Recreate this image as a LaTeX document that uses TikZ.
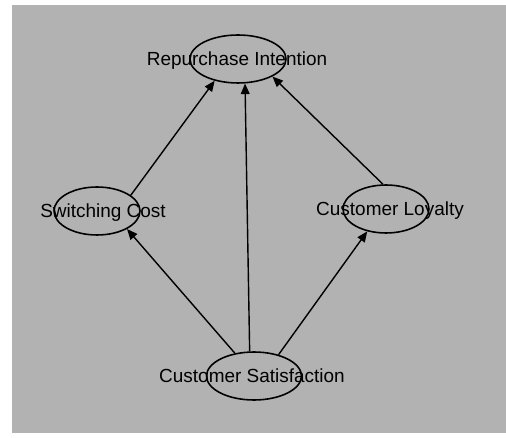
\documentclass[tikz,border=0pt]{standalone}
\usepackage{fontspec}
\setmainfont{Liberation Sans}
\usetikzlibrary{shapes.geometric,arrows.meta}

\begin{document}
\begin{tikzpicture}[x=0.02cm, y=-0.02cm,
		font=\fontsize{10.8}{13}\selectfont,
		factor/.style={ellipse,draw,line width=0.9pt,inner sep=0pt,minimum height=0.96cm},
		name_t/.style={anchor=base,inner sep=0pt},
		link/.style={line width=0.8pt,-{Triangle[length=6pt,width=5pt]}}]
		\useasboundingbox (0,0) rectangle (506,438);
		% textured backdrop
		\fill[black!30] (12,5) rectangle (506,433);
		
		% ellipses
		\node[factor, minimum width=1.92cm] (rep) at (238,59) {};
		\node[factor, minimum width=1.72cm] (sw) at (97,211) {};
		\node[factor, minimum width=1.72cm] (loy) at (386,209) {};
		\node[factor, minimum width=1.90cm] (sat) at (254,376) {};
		
		\node[name_t] (rept) at (237,65.8) {Repurchase Intention};
		\node[name_t] (swt) at (103,217.8) {Switching Cost};
		\node[name_t] (loyt) at (390,215.8) {Customer Loyalty};
		\node[name_t] (satt) at (252,382.8) {Customer Satisfaction};
		
		\draw[link] (sw.25) -- (rep.223);
		\draw[link] (sat.100) -- (rep.286);
		\draw[link] (loy.97) -- (rep.333);
		\draw[link] (sat.130) -- (sw.329);
		\draw[link] (sat.41) -- (loy.230);
		\end{tikzpicture}
\end{document}
